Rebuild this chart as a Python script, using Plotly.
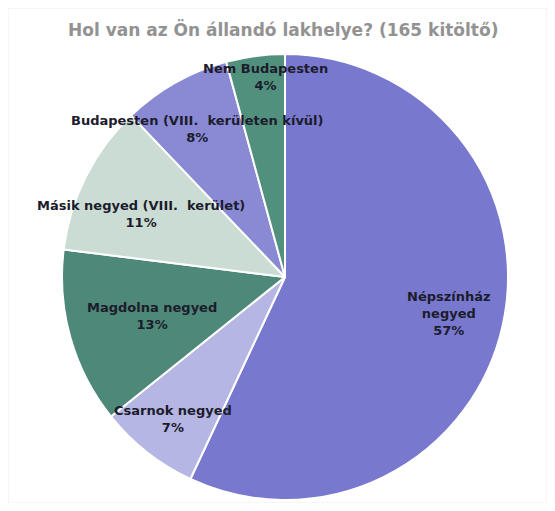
import math
import plotly.graph_objects as go

# Data
categories = ["Népszínház<br>negyed", "Csarnok negyed", "Magdolna negyed",
              "Másik negyed (VIII.  kerület)", "Budapesten (VIII.  kerületen kívül)",
              "Nem Budapesten"]
counts = [94, 12, 21, 18, 13, 7]
colors = ["#7878ce", "#b6b6e4", "#4d8878", "#cadcd4", "#8a8ad4", "#52907e"]
title_text = "Hol van az Ön állandó lakhelye? (165 kitöltő)"

# Layout helpers (pixel geometry in reference, page has an 8px body offset)
OFF = 8
W, H = 555 - 2 * OFF, 511 - 2 * OFF
cx, cy, R = 285 - OFF, 277 - OFF, 223
label_r = [0.755, 0.81, 0.62, 0.705, 0.77, 0.90]
label_shift = [0, 0, -0.7, -3, -1, 2]  # degrees

fig = go.Figure(go.Pie(
    labels=categories, values=counts, sort=False, direction="clockwise", rotation=0,
    marker=dict(colors=colors, line=dict(color="white", width=2)),
    textinfo="none", hoverinfo="label+percent", showlegend=False,
    domain=dict(x=[(cx - R) / W, (cx + R) / W], y=[1 - (cy + R) / H, 1 - (cy - R) / H]),
))

total = sum(counts)
cum = 0
annotations = []
for i, (lab, v) in enumerate(zip(categories, counts)):
    mid = (cum + v / 2) / total * 360 + label_shift[i]
    cum += v
    a = math.radians(mid)
    px = cx + label_r[i] * R * math.sin(a)
    py = cy - label_r[i] * R * math.cos(a)
    pct = round(v / total * 100)
    annotations.append(dict(
        x=px / W, y=1 - py / H, xref="paper", yref="paper",
        xanchor="center", yanchor="middle",
        text=f"<b>{lab}<br>{pct}%</b>", showarrow=False,
        font=dict(family="DejaVu Sans", size=13, color="#1c1c2c"),
        align="center",
    ))

annotations.append(dict(
    x=(283 - OFF) / W, y=1 - (30 - OFF) / H, xref="paper", yref="paper",
    xanchor="center", yanchor="middle",
    text=f"<b>{title_text}</b>", showarrow=False,
    font=dict(family="DejaVu Sans", size=17, color="#929292"),
))

fig.update_layout(
    width=W, height=H, margin=dict(l=0, r=0, t=0, b=0),
    paper_bgcolor="white", plot_bgcolor="white",
    annotations=annotations,
    shapes=[dict(type="rect", xref="paper", yref="paper",
                 x0=0, x1=1, y0=0, y1=1,
                 line=dict(color="#ececec", width=1))],
)

fig.write_html("out.html")
